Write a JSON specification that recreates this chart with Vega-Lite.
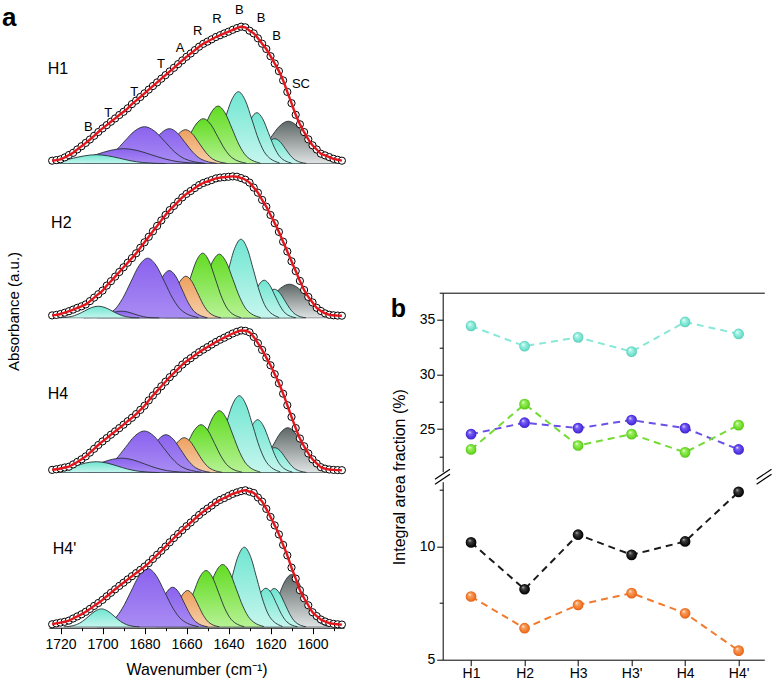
{
"$schema":"https://vega.github.io/schema/vega-lite/v6.json",
"padding":{"top":3.7,"left":1,"right":0,"bottom":0},
"config":{"font":"Liberation Sans","view":{"stroke":null},"axis":{"grid":false,"domainColor":"#000","tickColor":"#000","labelColor":"#000","titleColor":"#000","titleFontWeight":"normal","domainWidth":1,"tickWidth":1}},
"datasets":{
"A":[
{"k":"e","s":"H1","x":1724,"y":0.030},{"k":"e","s":"H1","x":1722,"y":0.036},{"k":"e","s":"H1","x":1720,"y":0.044},{"k":"e","s":"H1","x":1718,"y":0.063},{"k":"e","s":"H1","x":1716,"y":0.087},{"k":"e","s":"H1","x":1714,"y":0.109},{"k":"e","s":"H1","x":1712,"y":0.143},{"k":"e","s":"H1","x":1710,"y":0.175},{"k":"e","s":"H1","x":1708,"y":0.208},{"k":"e","s":"H1","x":1706,"y":0.242},{"k":"e","s":"H1","x":1704,"y":0.279},{"k":"e","s":"H1","x":1702,"y":0.317},{"k":"e","s":"H1","x":1700,"y":0.353},{"k":"e","s":"H1","x":1698,"y":0.386},{"k":"e","s":"H1","x":1696,"y":0.420},{"k":"e","s":"H1","x":1694,"y":0.453},{"k":"e","s":"H1","x":1692,"y":0.487},{"k":"e","s":"H1","x":1690,"y":0.519},{"k":"e","s":"H1","x":1688,"y":0.554},{"k":"e","s":"H1","x":1686,"y":0.596},{"k":"e","s":"H1","x":1684,"y":0.631},{"k":"e","s":"H1","x":1682,"y":0.667},{"k":"e","s":"H1","x":1680,"y":0.704},{"k":"e","s":"H1","x":1678,"y":0.741},{"k":"e","s":"H1","x":1676,"y":0.777},{"k":"e","s":"H1","x":1674,"y":0.813},{"k":"e","s":"H1","x":1672,"y":0.850},{"k":"e","s":"H1","x":1670,"y":0.886},{"k":"e","s":"H1","x":1668,"y":0.923},{"k":"e","s":"H1","x":1666,"y":0.959},{"k":"e","s":"H1","x":1664,"y":0.996},{"k":"e","s":"H1","x":1662,"y":1.033},{"k":"e","s":"H1","x":1660,"y":1.069},{"k":"e","s":"H1","x":1658,"y":1.102},{"k":"e","s":"H1","x":1656,"y":1.136},{"k":"e","s":"H1","x":1654,"y":1.170},{"k":"e","s":"H1","x":1652,"y":1.199},{"k":"e","s":"H1","x":1650,"y":1.221},{"k":"e","s":"H1","x":1648,"y":1.244},{"k":"e","s":"H1","x":1646,"y":1.267},{"k":"e","s":"H1","x":1644,"y":1.285},{"k":"e","s":"H1","x":1642,"y":1.303},{"k":"e","s":"H1","x":1640,"y":1.320},{"k":"e","s":"H1","x":1638,"y":1.339},{"k":"e","s":"H1","x":1636,"y":1.356},{"k":"e","s":"H1","x":1634,"y":1.370},{"k":"e","s":"H1","x":1632,"y":1.364},{"k":"e","s":"H1","x":1630,"y":1.330},{"k":"e","s":"H1","x":1628,"y":1.303},{"k":"e","s":"H1","x":1626,"y":1.254},{"k":"e","s":"H1","x":1624,"y":1.200},{"k":"e","s":"H1","x":1622,"y":1.147},{"k":"e","s":"H1","x":1620,"y":1.075},{"k":"e","s":"H1","x":1618,"y":1.002},{"k":"e","s":"H1","x":1616,"y":0.926},{"k":"e","s":"H1","x":1614,"y":0.833},{"k":"e","s":"H1","x":1612,"y":0.718},{"k":"e","s":"H1","x":1610,"y":0.605},{"k":"e","s":"H1","x":1608,"y":0.489},{"k":"e","s":"H1","x":1606,"y":0.394},{"k":"e","s":"H1","x":1604,"y":0.316},{"k":"e","s":"H1","x":1602,"y":0.244},{"k":"e","s":"H1","x":1600,"y":0.184},{"k":"e","s":"H1","x":1598,"y":0.142},{"k":"e","s":"H1","x":1596,"y":0.100},{"k":"e","s":"H1","x":1594,"y":0.083},{"k":"e","s":"H1","x":1592,"y":0.066},{"k":"e","s":"H1","x":1590,"y":0.049},{"k":"e","s":"H1","x":1588,"y":0.039},{"k":"e","s":"H1","x":1586,"y":0.030},
{"k":"e","s":"H2","x":1724,"y":0.028},{"k":"e","s":"H2","x":1722,"y":0.033},{"k":"e","s":"H2","x":1720,"y":0.042},{"k":"e","s":"H2","x":1718,"y":0.055},{"k":"e","s":"H2","x":1716,"y":0.070},{"k":"e","s":"H2","x":1714,"y":0.086},{"k":"e","s":"H2","x":1712,"y":0.104},{"k":"e","s":"H2","x":1710,"y":0.119},{"k":"e","s":"H2","x":1708,"y":0.138},{"k":"e","s":"H2","x":1706,"y":0.171},{"k":"e","s":"H2","x":1704,"y":0.206},{"k":"e","s":"H2","x":1702,"y":0.240},{"k":"e","s":"H2","x":1700,"y":0.276},{"k":"e","s":"H2","x":1698,"y":0.326},{"k":"e","s":"H2","x":1696,"y":0.370},{"k":"e","s":"H2","x":1694,"y":0.416},{"k":"e","s":"H2","x":1692,"y":0.462},{"k":"e","s":"H2","x":1690,"y":0.509},{"k":"e","s":"H2","x":1688,"y":0.555},{"k":"e","s":"H2","x":1686,"y":0.601},{"k":"e","s":"H2","x":1684,"y":0.649},{"k":"e","s":"H2","x":1682,"y":0.704},{"k":"e","s":"H2","x":1680,"y":0.759},{"k":"e","s":"H2","x":1678,"y":0.814},{"k":"e","s":"H2","x":1676,"y":0.869},{"k":"e","s":"H2","x":1674,"y":0.923},{"k":"e","s":"H2","x":1672,"y":0.978},{"k":"e","s":"H2","x":1670,"y":1.033},{"k":"e","s":"H2","x":1668,"y":1.081},{"k":"e","s":"H2","x":1666,"y":1.123},{"k":"e","s":"H2","x":1664,"y":1.166},{"k":"e","s":"H2","x":1662,"y":1.208},{"k":"e","s":"H2","x":1660,"y":1.243},{"k":"e","s":"H2","x":1658,"y":1.272},{"k":"e","s":"H2","x":1656,"y":1.302},{"k":"e","s":"H2","x":1654,"y":1.331},{"k":"e","s":"H2","x":1652,"y":1.352},{"k":"e","s":"H2","x":1650,"y":1.367},{"k":"e","s":"H2","x":1648,"y":1.382},{"k":"e","s":"H2","x":1646,"y":1.398},{"k":"e","s":"H2","x":1644,"y":1.406},{"k":"e","s":"H2","x":1642,"y":1.410},{"k":"e","s":"H2","x":1640,"y":1.414},{"k":"e","s":"H2","x":1638,"y":1.418},{"k":"e","s":"H2","x":1636,"y":1.415},{"k":"e","s":"H2","x":1634,"y":1.401},{"k":"e","s":"H2","x":1632,"y":1.385},{"k":"e","s":"H2","x":1630,"y":1.356},{"k":"e","s":"H2","x":1628,"y":1.306},{"k":"e","s":"H2","x":1626,"y":1.255},{"k":"e","s":"H2","x":1624,"y":1.183},{"k":"e","s":"H2","x":1622,"y":1.115},{"k":"e","s":"H2","x":1620,"y":1.032},{"k":"e","s":"H2","x":1618,"y":0.950},{"k":"e","s":"H2","x":1616,"y":0.863},{"k":"e","s":"H2","x":1614,"y":0.765},{"k":"e","s":"H2","x":1612,"y":0.667},{"k":"e","s":"H2","x":1610,"y":0.569},{"k":"e","s":"H2","x":1608,"y":0.471},{"k":"e","s":"H2","x":1606,"y":0.373},{"k":"e","s":"H2","x":1604,"y":0.282},{"k":"e","s":"H2","x":1602,"y":0.213},{"k":"e","s":"H2","x":1600,"y":0.158},{"k":"e","s":"H2","x":1598,"y":0.104},{"k":"e","s":"H2","x":1596,"y":0.072},{"k":"e","s":"H2","x":1594,"y":0.048},{"k":"e","s":"H2","x":1592,"y":0.034},{"k":"e","s":"H2","x":1590,"y":0.029},{"k":"e","s":"H2","x":1588,"y":0.026},{"k":"e","s":"H2","x":1586,"y":0.025},
{"k":"e","s":"H4","x":1724,"y":0.028},{"k":"e","s":"H4","x":1722,"y":0.034},{"k":"e","s":"H4","x":1720,"y":0.042},{"k":"e","s":"H4","x":1718,"y":0.052},{"k":"e","s":"H4","x":1716,"y":0.060},{"k":"e","s":"H4","x":1714,"y":0.083},{"k":"e","s":"H4","x":1712,"y":0.108},{"k":"e","s":"H4","x":1710,"y":0.134},{"k":"e","s":"H4","x":1708,"y":0.163},{"k":"e","s":"H4","x":1706,"y":0.201},{"k":"e","s":"H4","x":1704,"y":0.239},{"k":"e","s":"H4","x":1702,"y":0.277},{"k":"e","s":"H4","x":1700,"y":0.313},{"k":"e","s":"H4","x":1698,"y":0.346},{"k":"e","s":"H4","x":1696,"y":0.380},{"k":"e","s":"H4","x":1694,"y":0.413},{"k":"e","s":"H4","x":1692,"y":0.446},{"k":"e","s":"H4","x":1690,"y":0.480},{"k":"e","s":"H4","x":1688,"y":0.515},{"k":"e","s":"H4","x":1686,"y":0.549},{"k":"e","s":"H4","x":1684,"y":0.586},{"k":"e","s":"H4","x":1682,"y":0.628},{"k":"e","s":"H4","x":1680,"y":0.670},{"k":"e","s":"H4","x":1678,"y":0.723},{"k":"e","s":"H4","x":1676,"y":0.772},{"k":"e","s":"H4","x":1674,"y":0.818},{"k":"e","s":"H4","x":1672,"y":0.864},{"k":"e","s":"H4","x":1670,"y":0.910},{"k":"e","s":"H4","x":1668,"y":0.955},{"k":"e","s":"H4","x":1666,"y":0.997},{"k":"e","s":"H4","x":1664,"y":1.039},{"k":"e","s":"H4","x":1662,"y":1.081},{"k":"e","s":"H4","x":1660,"y":1.115},{"k":"e","s":"H4","x":1658,"y":1.145},{"k":"e","s":"H4","x":1656,"y":1.175},{"k":"e","s":"H4","x":1654,"y":1.205},{"k":"e","s":"H4","x":1652,"y":1.231},{"k":"e","s":"H4","x":1650,"y":1.256},{"k":"e","s":"H4","x":1648,"y":1.282},{"k":"e","s":"H4","x":1646,"y":1.307},{"k":"e","s":"H4","x":1644,"y":1.330},{"k":"e","s":"H4","x":1642,"y":1.350},{"k":"e","s":"H4","x":1640,"y":1.371},{"k":"e","s":"H4","x":1638,"y":1.392},{"k":"e","s":"H4","x":1636,"y":1.409},{"k":"e","s":"H4","x":1634,"y":1.422},{"k":"e","s":"H4","x":1632,"y":1.419},{"k":"e","s":"H4","x":1630,"y":1.404},{"k":"e","s":"H4","x":1628,"y":1.358},{"k":"e","s":"H4","x":1626,"y":1.295},{"k":"e","s":"H4","x":1624,"y":1.228},{"k":"e","s":"H4","x":1622,"y":1.151},{"k":"e","s":"H4","x":1620,"y":1.074},{"k":"e","s":"H4","x":1618,"y":0.985},{"k":"e","s":"H4","x":1616,"y":0.894},{"k":"e","s":"H4","x":1614,"y":0.790},{"k":"e","s":"H4","x":1612,"y":0.675},{"k":"e","s":"H4","x":1610,"y":0.558},{"k":"e","s":"H4","x":1608,"y":0.446},{"k":"e","s":"H4","x":1606,"y":0.342},{"k":"e","s":"H4","x":1604,"y":0.264},{"k":"e","s":"H4","x":1602,"y":0.193},{"k":"e","s":"H4","x":1600,"y":0.134},{"k":"e","s":"H4","x":1598,"y":0.092},{"k":"e","s":"H4","x":1596,"y":0.055},{"k":"e","s":"H4","x":1594,"y":0.040},{"k":"e","s":"H4","x":1592,"y":0.032},{"k":"e","s":"H4","x":1590,"y":0.028},{"k":"e","s":"H4","x":1588,"y":0.026},{"k":"e","s":"H4","x":1586,"y":0.025},
{"k":"e","s":"H4'","x":1724,"y":0.029},{"k":"e","s":"H4'","x":1722,"y":0.038},{"k":"e","s":"H4'","x":1720,"y":0.046},{"k":"e","s":"H4'","x":1718,"y":0.054},{"k":"e","s":"H4'","x":1716,"y":0.066},{"k":"e","s":"H4'","x":1714,"y":0.087},{"k":"e","s":"H4'","x":1712,"y":0.108},{"k":"e","s":"H4'","x":1710,"y":0.129},{"k":"e","s":"H4'","x":1708,"y":0.154},{"k":"e","s":"H4'","x":1706,"y":0.183},{"k":"e","s":"H4'","x":1704,"y":0.213},{"k":"e","s":"H4'","x":1702,"y":0.242},{"k":"e","s":"H4'","x":1700,"y":0.273},{"k":"e","s":"H4'","x":1698,"y":0.309},{"k":"e","s":"H4'","x":1696,"y":0.344},{"k":"e","s":"H4'","x":1694,"y":0.379},{"k":"e","s":"H4'","x":1692,"y":0.413},{"k":"e","s":"H4'","x":1690,"y":0.445},{"k":"e","s":"H4'","x":1688,"y":0.478},{"k":"e","s":"H4'","x":1686,"y":0.510},{"k":"e","s":"H4'","x":1684,"y":0.541},{"k":"e","s":"H4'","x":1682,"y":0.573},{"k":"e","s":"H4'","x":1680,"y":0.606},{"k":"e","s":"H4'","x":1678,"y":0.641},{"k":"e","s":"H4'","x":1676,"y":0.683},{"k":"e","s":"H4'","x":1674,"y":0.724},{"k":"e","s":"H4'","x":1672,"y":0.764},{"k":"e","s":"H4'","x":1670,"y":0.806},{"k":"e","s":"H4'","x":1668,"y":0.849},{"k":"e","s":"H4'","x":1666,"y":0.892},{"k":"e","s":"H4'","x":1664,"y":0.932},{"k":"e","s":"H4'","x":1662,"y":0.971},{"k":"e","s":"H4'","x":1660,"y":1.010},{"k":"e","s":"H4'","x":1658,"y":1.047},{"k":"e","s":"H4'","x":1656,"y":1.085},{"k":"e","s":"H4'","x":1654,"y":1.122},{"k":"e","s":"H4'","x":1652,"y":1.156},{"k":"e","s":"H4'","x":1650,"y":1.186},{"k":"e","s":"H4'","x":1648,"y":1.216},{"k":"e","s":"H4'","x":1646,"y":1.248},{"k":"e","s":"H4'","x":1644,"y":1.273},{"k":"e","s":"H4'","x":1642,"y":1.292},{"k":"e","s":"H4'","x":1640,"y":1.313},{"k":"e","s":"H4'","x":1638,"y":1.333},{"k":"e","s":"H4'","x":1636,"y":1.348},{"k":"e","s":"H4'","x":1634,"y":1.361},{"k":"e","s":"H4'","x":1632,"y":1.369},{"k":"e","s":"H4'","x":1630,"y":1.355},{"k":"e","s":"H4'","x":1628,"y":1.342},{"k":"e","s":"H4'","x":1626,"y":1.297},{"k":"e","s":"H4'","x":1624,"y":1.256},{"k":"e","s":"H4'","x":1622,"y":1.183},{"k":"e","s":"H4'","x":1620,"y":1.102},{"k":"e","s":"H4'","x":1618,"y":1.018},{"k":"e","s":"H4'","x":1616,"y":0.928},{"k":"e","s":"H4'","x":1614,"y":0.823},{"k":"e","s":"H4'","x":1612,"y":0.718},{"k":"e","s":"H4'","x":1610,"y":0.596},{"k":"e","s":"H4'","x":1608,"y":0.486},{"k":"e","s":"H4'","x":1606,"y":0.370},{"k":"e","s":"H4'","x":1604,"y":0.289},{"k":"e","s":"H4'","x":1602,"y":0.219},{"k":"e","s":"H4'","x":1600,"y":0.150},{"k":"e","s":"H4'","x":1598,"y":0.111},{"k":"e","s":"H4'","x":1596,"y":0.077},{"k":"e","s":"H4'","x":1594,"y":0.057},{"k":"e","s":"H4'","x":1592,"y":0.042},{"k":"e","s":"H4'","x":1590,"y":0.033},{"k":"e","s":"H4'","x":1588,"y":0.029},{"k":"e","s":"H4'","x":1586,"y":0.026},

{"k":"p","s":"H1","g":"gr","p":1,"x":1586,"y":0.005},{"k":"p","s":"H1","g":"gr","p":1,"x":1594.5,"y":0.057},{"k":"p","s":"H1","g":"gr","p":1,"x":1598.75,"y":0.138},{"k":"p","s":"H1","g":"gr","p":1,"x":1603,"y":0.258},{"k":"p","s":"H1","g":"gr","p":1,"x":1607.25,"y":0.375},{"k":"p","s":"H1","g":"gr","p":1,"x":1611.5,"y":0.425},{"k":"p","s":"H1","g":"gr","p":1,"x":1615.75,"y":0.375},{"k":"p","s":"H1","g":"gr","p":1,"x":1620,"y":0.258},{"k":"p","s":"H1","g":"gr","p":1,"x":1624.25,"y":0.138},{"k":"p","s":"H1","g":"gr","p":1,"x":1628.5,"y":0.057},{"k":"p","s":"H1","g":"gr","p":1,"x":1637,"y":0.005},
{"k":"p","s":"H1","g":"cr","p":1,"x":1603,"y":0.003},{"k":"p","s":"H1","g":"cr","p":1,"x":1608,"y":0.034},{"k":"p","s":"H1","g":"cr","p":1,"x":1610.5,"y":0.081},{"k":"p","s":"H1","g":"cr","p":1,"x":1613,"y":0.152},{"k":"p","s":"H1","g":"cr","p":1,"x":1615.5,"y":0.221},{"k":"p","s":"H1","g":"cr","p":1,"x":1618,"y":0.25},{"k":"p","s":"H1","g":"cr","p":1,"x":1620.5,"y":0.221},{"k":"p","s":"H1","g":"cr","p":1,"x":1623,"y":0.152},{"k":"p","s":"H1","g":"cr","p":1,"x":1625.5,"y":0.081},{"k":"p","s":"H1","g":"cr","p":1,"x":1628,"y":0.034},{"k":"p","s":"H1","g":"cr","p":1,"x":1633,"y":0.003},
{"k":"p","s":"H1","g":"cr","p":2,"x":1610,"y":0.006},{"k":"p","s":"H1","g":"cr","p":2,"x":1615.5,"y":0.069},{"k":"p","s":"H1","g":"cr","p":2,"x":1618.25,"y":0.166},{"k":"p","s":"H1","g":"cr","p":2,"x":1621,"y":0.31},{"k":"p","s":"H1","g":"cr","p":2,"x":1623.75,"y":0.45},{"k":"p","s":"H1","g":"cr","p":2,"x":1626.5,"y":0.51},{"k":"p","s":"H1","g":"cr","p":2,"x":1629.25,"y":0.45},{"k":"p","s":"H1","g":"cr","p":2,"x":1632,"y":0.31},{"k":"p","s":"H1","g":"cr","p":2,"x":1634.75,"y":0.166},{"k":"p","s":"H1","g":"cr","p":2,"x":1637.5,"y":0.069},{"k":"p","s":"H1","g":"cr","p":2,"x":1643,"y":0.006},
{"k":"p","s":"H1","g":"cr","p":3,"x":1615.8,"y":0.008},{"k":"p","s":"H1","g":"cr","p":3,"x":1622.3,"y":0.097},{"k":"p","s":"H1","g":"cr","p":3,"x":1625.55,"y":0.234},{"k":"p","s":"H1","g":"cr","p":3,"x":1628.8,"y":0.437},{"k":"p","s":"H1","g":"cr","p":3,"x":1632.05,"y":0.635},{"k":"p","s":"H1","g":"cr","p":3,"x":1635.3,"y":0.72},{"k":"p","s":"H1","g":"cr","p":3,"x":1638.55,"y":0.635},{"k":"p","s":"H1","g":"cr","p":3,"x":1641.8,"y":0.437},{"k":"p","s":"H1","g":"cr","p":3,"x":1645.05,"y":0.234},{"k":"p","s":"H1","g":"cr","p":3,"x":1648.3,"y":0.097},{"k":"p","s":"H1","g":"cr","p":3,"x":1654.8,"y":0.008},
{"k":"p","s":"H1","g":"gn","p":1,"x":1624.9,"y":0.006},{"k":"p","s":"H1","g":"gn","p":1,"x":1631.6,"y":0.078},{"k":"p","s":"H1","g":"gn","p":1,"x":1634.95,"y":0.187},{"k":"p","s":"H1","g":"gn","p":1,"x":1638.3,"y":0.35},{"k":"p","s":"H1","g":"gn","p":1,"x":1641.65,"y":0.508},{"k":"p","s":"H1","g":"gn","p":1,"x":1645,"y":0.576},{"k":"p","s":"H1","g":"gn","p":1,"x":1648.35,"y":0.508},{"k":"p","s":"H1","g":"gn","p":1,"x":1651.7,"y":0.35},{"k":"p","s":"H1","g":"gn","p":1,"x":1655.05,"y":0.187},{"k":"p","s":"H1","g":"gn","p":1,"x":1658.4,"y":0.078},{"k":"p","s":"H1","g":"gn","p":1,"x":1665.1,"y":0.006},
{"k":"p","s":"H1","g":"gn","p":2,"x":1631.6,"y":0.005},{"k":"p","s":"H1","g":"gn","p":2,"x":1638.4,"y":0.061},{"k":"p","s":"H1","g":"gn","p":2,"x":1641.8,"y":0.146},{"k":"p","s":"H1","g":"gn","p":2,"x":1645.2,"y":0.273},{"k":"p","s":"H1","g":"gn","p":2,"x":1648.6,"y":0.397},{"k":"p","s":"H1","g":"gn","p":2,"x":1652,"y":0.45},{"k":"p","s":"H1","g":"gn","p":2,"x":1655.4,"y":0.397},{"k":"p","s":"H1","g":"gn","p":2,"x":1658.8,"y":0.273},{"k":"p","s":"H1","g":"gn","p":2,"x":1662.2,"y":0.146},{"k":"p","s":"H1","g":"gn","p":2,"x":1665.6,"y":0.061},{"k":"p","s":"H1","g":"gn","p":2,"x":1672.4,"y":0.005},
{"k":"p","s":"H1","g":"or","p":1,"x":1641,"y":0.004},{"k":"p","s":"H1","g":"or","p":1,"x":1647.5,"y":0.046},{"k":"p","s":"H1","g":"or","p":1,"x":1650.75,"y":0.111},{"k":"p","s":"H1","g":"or","p":1,"x":1654,"y":0.206},{"k":"p","s":"H1","g":"or","p":1,"x":1657.25,"y":0.3},{"k":"p","s":"H1","g":"or","p":1,"x":1660.5,"y":0.34},{"k":"p","s":"H1","g":"or","p":1,"x":1663.75,"y":0.3},{"k":"p","s":"H1","g":"or","p":1,"x":1667,"y":0.206},{"k":"p","s":"H1","g":"or","p":1,"x":1670.25,"y":0.111},{"k":"p","s":"H1","g":"or","p":1,"x":1673.5,"y":0.046},{"k":"p","s":"H1","g":"or","p":1,"x":1680,"y":0.004},
{"k":"p","s":"H1","g":"pu","p":1,"x":1645.7,"y":0.004},{"k":"p","s":"H1","g":"pu","p":1,"x":1653.2,"y":0.047},{"k":"p","s":"H1","g":"pu","p":1,"x":1656.95,"y":0.114},{"k":"p","s":"H1","g":"pu","p":1,"x":1660.7,"y":0.212},{"k":"p","s":"H1","g":"pu","p":1,"x":1664.45,"y":0.309},{"k":"p","s":"H1","g":"pu","p":1,"x":1668.2,"y":0.35},{"k":"p","s":"H1","g":"pu","p":1,"x":1671.95,"y":0.309},{"k":"p","s":"H1","g":"pu","p":1,"x":1675.7,"y":0.212},{"k":"p","s":"H1","g":"pu","p":1,"x":1679.45,"y":0.114},{"k":"p","s":"H1","g":"pu","p":1,"x":1683.2,"y":0.047},{"k":"p","s":"H1","g":"pu","p":1,"x":1690.7,"y":0.004},
{"k":"p","s":"H1","g":"pu","p":2,"x":1651.5,"y":0.004},{"k":"p","s":"H1","g":"pu","p":2,"x":1661,"y":0.05},{"k":"p","s":"H1","g":"pu","p":2,"x":1665.75,"y":0.12},{"k":"p","s":"H1","g":"pu","p":2,"x":1670.5,"y":0.225},{"k":"p","s":"H1","g":"pu","p":2,"x":1675.25,"y":0.326},{"k":"p","s":"H1","g":"pu","p":2,"x":1680,"y":0.37},{"k":"p","s":"H1","g":"pu","p":2,"x":1684.75,"y":0.326},{"k":"p","s":"H1","g":"pu","p":2,"x":1689.5,"y":0.225},{"k":"p","s":"H1","g":"pu","p":2,"x":1694.25,"y":0.12},{"k":"p","s":"H1","g":"pu","p":2,"x":1699,"y":0.05},{"k":"p","s":"H1","g":"pu","p":2,"x":1708.5,"y":0.004},
{"k":"p","s":"H1","g":"pu","p":3,"x":1651,"y":0.002},{"k":"p","s":"H1","g":"pu","p":3,"x":1664,"y":0.02},{"k":"p","s":"H1","g":"pu","p":3,"x":1670.5,"y":0.049},{"k":"p","s":"H1","g":"pu","p":3,"x":1677,"y":0.091},{"k":"p","s":"H1","g":"pu","p":3,"x":1683.5,"y":0.132},{"k":"p","s":"H1","g":"pu","p":3,"x":1690,"y":0.15},{"k":"p","s":"H1","g":"pu","p":3,"x":1696.5,"y":0.132},{"k":"p","s":"H1","g":"pu","p":3,"x":1703,"y":0.091},{"k":"p","s":"H1","g":"pu","p":3,"x":1709.5,"y":0.049},{"k":"p","s":"H1","g":"pu","p":3,"x":1716,"y":0.02},{"k":"p","s":"H1","g":"pu","p":3,"x":1729,"y":0.002},
{"k":"p","s":"H1","g":"cl","p":1,"x":1670,"y":0.001},{"k":"p","s":"H1","g":"cl","p":1,"x":1681,"y":0.012},{"k":"p","s":"H1","g":"cl","p":1,"x":1686.5,"y":0.029},{"k":"p","s":"H1","g":"cl","p":1,"x":1692,"y":0.055},{"k":"p","s":"H1","g":"cl","p":1,"x":1697.5,"y":0.079},{"k":"p","s":"H1","g":"cl","p":1,"x":1703,"y":0.09},{"k":"p","s":"H1","g":"cl","p":1,"x":1708.5,"y":0.079},{"k":"p","s":"H1","g":"cl","p":1,"x":1714,"y":0.055},{"k":"p","s":"H1","g":"cl","p":1,"x":1719.5,"y":0.029},{"k":"p","s":"H1","g":"cl","p":1,"x":1725,"y":0.012},{"k":"p","s":"H1","g":"cl","p":1,"x":1736,"y":0.001},

{"k":"p","s":"H2","g":"gr","p":1,"x":1585.5,"y":0.004},{"k":"p","s":"H2","g":"gr","p":1,"x":1594,"y":0.046},{"k":"p","s":"H2","g":"gr","p":1,"x":1598.25,"y":0.111},{"k":"p","s":"H2","g":"gr","p":1,"x":1602.5,"y":0.206},{"k":"p","s":"H2","g":"gr","p":1,"x":1606.75,"y":0.3},{"k":"p","s":"H2","g":"gr","p":1,"x":1611,"y":0.34},{"k":"p","s":"H2","g":"gr","p":1,"x":1615.25,"y":0.3},{"k":"p","s":"H2","g":"gr","p":1,"x":1619.5,"y":0.206},{"k":"p","s":"H2","g":"gr","p":1,"x":1623.75,"y":0.111},{"k":"p","s":"H2","g":"gr","p":1,"x":1628,"y":0.046},{"k":"p","s":"H2","g":"gr","p":1,"x":1636.5,"y":0.004},
{"k":"p","s":"H2","g":"cr","p":1,"x":1603.2,"y":0.003},{"k":"p","s":"H2","g":"cr","p":1,"x":1608.2,"y":0.039},{"k":"p","s":"H2","g":"cr","p":1,"x":1610.7,"y":0.094},{"k":"p","s":"H2","g":"cr","p":1,"x":1613.2,"y":0.176},{"k":"p","s":"H2","g":"cr","p":1,"x":1615.7,"y":0.256},{"k":"p","s":"H2","g":"cr","p":1,"x":1618.2,"y":0.29},{"k":"p","s":"H2","g":"cr","p":1,"x":1620.7,"y":0.256},{"k":"p","s":"H2","g":"cr","p":1,"x":1623.2,"y":0.176},{"k":"p","s":"H2","g":"cr","p":1,"x":1625.7,"y":0.094},{"k":"p","s":"H2","g":"cr","p":1,"x":1628.2,"y":0.039},{"k":"p","s":"H2","g":"cr","p":1,"x":1633.2,"y":0.003},
{"k":"p","s":"H2","g":"cr","p":2,"x":1608,"y":0.004},{"k":"p","s":"H2","g":"cr","p":2,"x":1613,"y":0.051},{"k":"p","s":"H2","g":"cr","p":2,"x":1615.5,"y":0.124},{"k":"p","s":"H2","g":"cr","p":2,"x":1618,"y":0.231},{"k":"p","s":"H2","g":"cr","p":2,"x":1620.5,"y":0.335},{"k":"p","s":"H2","g":"cr","p":2,"x":1623,"y":0.38},{"k":"p","s":"H2","g":"cr","p":2,"x":1625.5,"y":0.335},{"k":"p","s":"H2","g":"cr","p":2,"x":1628,"y":0.231},{"k":"p","s":"H2","g":"cr","p":2,"x":1630.5,"y":0.124},{"k":"p","s":"H2","g":"cr","p":2,"x":1633,"y":0.051},{"k":"p","s":"H2","g":"cr","p":2,"x":1638,"y":0.004},
{"k":"p","s":"H2","g":"cr","p":3,"x":1616.1,"y":0.009},{"k":"p","s":"H2","g":"cr","p":3,"x":1622.1,"y":0.107},{"k":"p","s":"H2","g":"cr","p":3,"x":1625.1,"y":0.257},{"k":"p","s":"H2","g":"cr","p":3,"x":1628.1,"y":0.48},{"k":"p","s":"H2","g":"cr","p":3,"x":1631.1,"y":0.697},{"k":"p","s":"H2","g":"cr","p":3,"x":1634.1,"y":0.79},{"k":"p","s":"H2","g":"cr","p":3,"x":1637.1,"y":0.697},{"k":"p","s":"H2","g":"cr","p":3,"x":1640.1,"y":0.48},{"k":"p","s":"H2","g":"cr","p":3,"x":1643.1,"y":0.257},{"k":"p","s":"H2","g":"cr","p":3,"x":1646.1,"y":0.107},{"k":"p","s":"H2","g":"cr","p":3,"x":1652.1,"y":0.009},
{"k":"p","s":"H2","g":"gn","p":1,"x":1624.9,"y":0.007},{"k":"p","s":"H2","g":"gn","p":1,"x":1631.4,"y":0.086},{"k":"p","s":"H2","g":"gn","p":1,"x":1634.65,"y":0.208},{"k":"p","s":"H2","g":"gn","p":1,"x":1637.9,"y":0.388},{"k":"p","s":"H2","g":"gn","p":1,"x":1641.15,"y":0.564},{"k":"p","s":"H2","g":"gn","p":1,"x":1644.4,"y":0.64},{"k":"p","s":"H2","g":"gn","p":1,"x":1647.65,"y":0.564},{"k":"p","s":"H2","g":"gn","p":1,"x":1650.9,"y":0.388},{"k":"p","s":"H2","g":"gn","p":1,"x":1654.15,"y":0.208},{"k":"p","s":"H2","g":"gn","p":1,"x":1657.4,"y":0.086},{"k":"p","s":"H2","g":"gn","p":1,"x":1663.9,"y":0.007},
{"k":"p","s":"H2","g":"gn","p":2,"x":1634.3,"y":0.007},{"k":"p","s":"H2","g":"gn","p":2,"x":1640.3,"y":0.088},{"k":"p","s":"H2","g":"gn","p":2,"x":1643.3,"y":0.211},{"k":"p","s":"H2","g":"gn","p":2,"x":1646.3,"y":0.395},{"k":"p","s":"H2","g":"gn","p":2,"x":1649.3,"y":0.573},{"k":"p","s":"H2","g":"gn","p":2,"x":1652.3,"y":0.65},{"k":"p","s":"H2","g":"gn","p":2,"x":1655.3,"y":0.573},{"k":"p","s":"H2","g":"gn","p":2,"x":1658.3,"y":0.395},{"k":"p","s":"H2","g":"gn","p":2,"x":1661.3,"y":0.211},{"k":"p","s":"H2","g":"gn","p":2,"x":1664.3,"y":0.088},{"k":"p","s":"H2","g":"gn","p":2,"x":1670.3,"y":0.007},
{"k":"p","s":"H2","g":"or","p":1,"x":1643.8,"y":0.005},{"k":"p","s":"H2","g":"or","p":1,"x":1649.3,"y":0.057},{"k":"p","s":"H2","g":"or","p":1,"x":1652.05,"y":0.137},{"k":"p","s":"H2","g":"or","p":1,"x":1654.8,"y":0.255},{"k":"p","s":"H2","g":"or","p":1,"x":1657.55,"y":0.37},{"k":"p","s":"H2","g":"or","p":1,"x":1660.3,"y":0.42},{"k":"p","s":"H2","g":"or","p":1,"x":1663.05,"y":0.37},{"k":"p","s":"H2","g":"or","p":1,"x":1665.8,"y":0.255},{"k":"p","s":"H2","g":"or","p":1,"x":1668.55,"y":0.137},{"k":"p","s":"H2","g":"or","p":1,"x":1671.3,"y":0.057},{"k":"p","s":"H2","g":"or","p":1,"x":1676.8,"y":0.005},
{"k":"p","s":"H2","g":"pu","p":1,"x":1650.2,"y":0.005},{"k":"p","s":"H2","g":"pu","p":1,"x":1656.2,"y":0.064},{"k":"p","s":"H2","g":"pu","p":1,"x":1659.2,"y":0.155},{"k":"p","s":"H2","g":"pu","p":1,"x":1662.2,"y":0.29},{"k":"p","s":"H2","g":"pu","p":1,"x":1665.2,"y":0.421},{"k":"p","s":"H2","g":"pu","p":1,"x":1668.2,"y":0.477},{"k":"p","s":"H2","g":"pu","p":1,"x":1671.2,"y":0.421},{"k":"p","s":"H2","g":"pu","p":1,"x":1674.2,"y":0.29},{"k":"p","s":"H2","g":"pu","p":1,"x":1677.2,"y":0.155},{"k":"p","s":"H2","g":"pu","p":1,"x":1680.2,"y":0.064},{"k":"p","s":"H2","g":"pu","p":1,"x":1686.2,"y":0.005},
{"k":"p","s":"H2","g":"pu","p":2,"x":1654.5,"y":0.007},{"k":"p","s":"H2","g":"pu","p":2,"x":1662.5,"y":0.081},{"k":"p","s":"H2","g":"pu","p":2,"x":1666.5,"y":0.195},{"k":"p","s":"H2","g":"pu","p":2,"x":1670.5,"y":0.364},{"k":"p","s":"H2","g":"pu","p":2,"x":1674.5,"y":0.529},{"k":"p","s":"H2","g":"pu","p":2,"x":1678.5,"y":0.6},{"k":"p","s":"H2","g":"pu","p":2,"x":1682.5,"y":0.529},{"k":"p","s":"H2","g":"pu","p":2,"x":1686.5,"y":0.364},{"k":"p","s":"H2","g":"pu","p":2,"x":1690.5,"y":0.195},{"k":"p","s":"H2","g":"pu","p":2,"x":1694.5,"y":0.081},{"k":"p","s":"H2","g":"pu","p":2,"x":1702.5,"y":0.007},
{"k":"p","s":"H2","g":"pu","p":3,"x":1673,"y":0.001},{"k":"p","s":"H2","g":"pu","p":3,"x":1679,"y":0.009},{"k":"p","s":"H2","g":"pu","p":3,"x":1682,"y":0.023},{"k":"p","s":"H2","g":"pu","p":3,"x":1685,"y":0.042},{"k":"p","s":"H2","g":"pu","p":3,"x":1688,"y":0.062},{"k":"p","s":"H2","g":"pu","p":3,"x":1691,"y":0.07},{"k":"p","s":"H2","g":"pu","p":3,"x":1694,"y":0.062},{"k":"p","s":"H2","g":"pu","p":3,"x":1697,"y":0.042},{"k":"p","s":"H2","g":"pu","p":3,"x":1700,"y":0.023},{"k":"p","s":"H2","g":"pu","p":3,"x":1703,"y":0.009},{"k":"p","s":"H2","g":"pu","p":3,"x":1709,"y":0.001},
{"k":"p","s":"H2","g":"cl","p":1,"x":1682.5,"y":0.001},{"k":"p","s":"H2","g":"cl","p":1,"x":1689,"y":0.016},{"k":"p","s":"H2","g":"cl","p":1,"x":1692.25,"y":0.039},{"k":"p","s":"H2","g":"cl","p":1,"x":1695.5,"y":0.073},{"k":"p","s":"H2","g":"cl","p":1,"x":1698.75,"y":0.106},{"k":"p","s":"H2","g":"cl","p":1,"x":1702,"y":0.12},{"k":"p","s":"H2","g":"cl","p":1,"x":1705.25,"y":0.106},{"k":"p","s":"H2","g":"cl","p":1,"x":1708.5,"y":0.073},{"k":"p","s":"H2","g":"cl","p":1,"x":1711.75,"y":0.039},{"k":"p","s":"H2","g":"cl","p":1,"x":1715,"y":0.016},{"k":"p","s":"H2","g":"cl","p":1,"x":1721.5,"y":0.001},

{"k":"p","s":"H4","g":"gr","p":1,"x":1590.8,"y":0.005},{"k":"p","s":"H4","g":"gr","p":1,"x":1597.8,"y":0.061},{"k":"p","s":"H4","g":"gr","p":1,"x":1601.3,"y":0.146},{"k":"p","s":"H4","g":"gr","p":1,"x":1604.8,"y":0.273},{"k":"p","s":"H4","g":"gr","p":1,"x":1608.3,"y":0.397},{"k":"p","s":"H4","g":"gr","p":1,"x":1611.8,"y":0.45},{"k":"p","s":"H4","g":"gr","p":1,"x":1615.3,"y":0.397},{"k":"p","s":"H4","g":"gr","p":1,"x":1618.8,"y":0.273},{"k":"p","s":"H4","g":"gr","p":1,"x":1622.3,"y":0.146},{"k":"p","s":"H4","g":"gr","p":1,"x":1625.8,"y":0.061},{"k":"p","s":"H4","g":"gr","p":1,"x":1632.8,"y":0.005},
{"k":"p","s":"H4","g":"cr","p":1,"x":1603,"y":0.003},{"k":"p","s":"H4","g":"cr","p":1,"x":1608,"y":0.034},{"k":"p","s":"H4","g":"cr","p":1,"x":1610.5,"y":0.081},{"k":"p","s":"H4","g":"cr","p":1,"x":1613,"y":0.152},{"k":"p","s":"H4","g":"cr","p":1,"x":1615.5,"y":0.221},{"k":"p","s":"H4","g":"cr","p":1,"x":1618,"y":0.25},{"k":"p","s":"H4","g":"cr","p":1,"x":1620.5,"y":0.221},{"k":"p","s":"H4","g":"cr","p":1,"x":1623,"y":0.152},{"k":"p","s":"H4","g":"cr","p":1,"x":1625.5,"y":0.081},{"k":"p","s":"H4","g":"cr","p":1,"x":1628,"y":0.034},{"k":"p","s":"H4","g":"cr","p":1,"x":1633,"y":0.003},
{"k":"p","s":"H4","g":"cr","p":2,"x":1609.6,"y":0.006},{"k":"p","s":"H4","g":"cr","p":2,"x":1615.1,"y":0.072},{"k":"p","s":"H4","g":"cr","p":2,"x":1617.85,"y":0.172},{"k":"p","s":"H4","g":"cr","p":2,"x":1620.6,"y":0.322},{"k":"p","s":"H4","g":"cr","p":2,"x":1623.35,"y":0.467},{"k":"p","s":"H4","g":"cr","p":2,"x":1626.1,"y":0.53},{"k":"p","s":"H4","g":"cr","p":2,"x":1628.85,"y":0.467},{"k":"p","s":"H4","g":"cr","p":2,"x":1631.6,"y":0.322},{"k":"p","s":"H4","g":"cr","p":2,"x":1634.35,"y":0.172},{"k":"p","s":"H4","g":"cr","p":2,"x":1637.1,"y":0.072},{"k":"p","s":"H4","g":"cr","p":2,"x":1642.6,"y":0.006},
{"k":"p","s":"H4","g":"cr","p":3,"x":1615.4,"y":0.008},{"k":"p","s":"H4","g":"cr","p":3,"x":1621.9,"y":0.104},{"k":"p","s":"H4","g":"cr","p":3,"x":1625.15,"y":0.25},{"k":"p","s":"H4","g":"cr","p":3,"x":1628.4,"y":0.467},{"k":"p","s":"H4","g":"cr","p":3,"x":1631.65,"y":0.679},{"k":"p","s":"H4","g":"cr","p":3,"x":1634.9,"y":0.77},{"k":"p","s":"H4","g":"cr","p":3,"x":1638.15,"y":0.679},{"k":"p","s":"H4","g":"cr","p":3,"x":1641.4,"y":0.467},{"k":"p","s":"H4","g":"cr","p":3,"x":1644.65,"y":0.25},{"k":"p","s":"H4","g":"cr","p":3,"x":1647.9,"y":0.104},{"k":"p","s":"H4","g":"cr","p":3,"x":1654.4,"y":0.008},
{"k":"p","s":"H4","g":"gn","p":1,"x":1624.9,"y":0.007},{"k":"p","s":"H4","g":"gn","p":1,"x":1631.4,"y":0.084},{"k":"p","s":"H4","g":"gn","p":1,"x":1634.65,"y":0.202},{"k":"p","s":"H4","g":"gn","p":1,"x":1637.9,"y":0.376},{"k":"p","s":"H4","g":"gn","p":1,"x":1641.15,"y":0.547},{"k":"p","s":"H4","g":"gn","p":1,"x":1644.4,"y":0.62},{"k":"p","s":"H4","g":"gn","p":1,"x":1647.65,"y":0.547},{"k":"p","s":"H4","g":"gn","p":1,"x":1650.9,"y":0.376},{"k":"p","s":"H4","g":"gn","p":1,"x":1654.15,"y":0.202},{"k":"p","s":"H4","g":"gn","p":1,"x":1657.4,"y":0.084},{"k":"p","s":"H4","g":"gn","p":1,"x":1663.9,"y":0.007},
{"k":"p","s":"H4","g":"gn","p":2,"x":1633.6,"y":0.005},{"k":"p","s":"H4","g":"gn","p":2,"x":1640.1,"y":0.065},{"k":"p","s":"H4","g":"gn","p":2,"x":1643.35,"y":0.156},{"k":"p","s":"H4","g":"gn","p":2,"x":1646.6,"y":0.291},{"k":"p","s":"H4","g":"gn","p":2,"x":1649.85,"y":0.423},{"k":"p","s":"H4","g":"gn","p":2,"x":1653.1,"y":0.48},{"k":"p","s":"H4","g":"gn","p":2,"x":1656.35,"y":0.423},{"k":"p","s":"H4","g":"gn","p":2,"x":1659.6,"y":0.291},{"k":"p","s":"H4","g":"gn","p":2,"x":1662.85,"y":0.156},{"k":"p","s":"H4","g":"gn","p":2,"x":1666.1,"y":0.065},{"k":"p","s":"H4","g":"gn","p":2,"x":1672.6,"y":0.005},
{"k":"p","s":"H4","g":"or","p":1,"x":1643.1,"y":0.004},{"k":"p","s":"H4","g":"or","p":1,"x":1649.1,"y":0.047},{"k":"p","s":"H4","g":"or","p":1,"x":1652.1,"y":0.114},{"k":"p","s":"H4","g":"or","p":1,"x":1655.1,"y":0.212},{"k":"p","s":"H4","g":"or","p":1,"x":1658.1,"y":0.309},{"k":"p","s":"H4","g":"or","p":1,"x":1661.1,"y":0.35},{"k":"p","s":"H4","g":"or","p":1,"x":1664.1,"y":0.309},{"k":"p","s":"H4","g":"or","p":1,"x":1667.1,"y":0.212},{"k":"p","s":"H4","g":"or","p":1,"x":1670.1,"y":0.114},{"k":"p","s":"H4","g":"or","p":1,"x":1673.1,"y":0.047},{"k":"p","s":"H4","g":"or","p":1,"x":1679.1,"y":0.004},
{"k":"p","s":"H4","g":"pu","p":1,"x":1648.8,"y":0.004},{"k":"p","s":"H4","g":"pu","p":1,"x":1655.8,"y":0.051},{"k":"p","s":"H4","g":"pu","p":1,"x":1659.3,"y":0.124},{"k":"p","s":"H4","g":"pu","p":1,"x":1662.8,"y":0.231},{"k":"p","s":"H4","g":"pu","p":1,"x":1666.3,"y":0.335},{"k":"p","s":"H4","g":"pu","p":1,"x":1669.8,"y":0.38},{"k":"p","s":"H4","g":"pu","p":1,"x":1673.3,"y":0.335},{"k":"p","s":"H4","g":"pu","p":1,"x":1676.8,"y":0.231},{"k":"p","s":"H4","g":"pu","p":1,"x":1680.3,"y":0.124},{"k":"p","s":"H4","g":"pu","p":1,"x":1683.8,"y":0.051},{"k":"p","s":"H4","g":"pu","p":1,"x":1690.8,"y":0.004},
{"k":"p","s":"H4","g":"pu","p":2,"x":1653.1,"y":0.005},{"k":"p","s":"H4","g":"pu","p":2,"x":1662.1,"y":0.056},{"k":"p","s":"H4","g":"pu","p":2,"x":1666.6,"y":0.136},{"k":"p","s":"H4","g":"pu","p":2,"x":1671.1,"y":0.253},{"k":"p","s":"H4","g":"pu","p":2,"x":1675.6,"y":0.368},{"k":"p","s":"H4","g":"pu","p":2,"x":1680.1,"y":0.417},{"k":"p","s":"H4","g":"pu","p":2,"x":1684.6,"y":0.368},{"k":"p","s":"H4","g":"pu","p":2,"x":1689.1,"y":0.253},{"k":"p","s":"H4","g":"pu","p":2,"x":1693.6,"y":0.136},{"k":"p","s":"H4","g":"pu","p":2,"x":1698.1,"y":0.056},{"k":"p","s":"H4","g":"pu","p":2,"x":1707.1,"y":0.005},
{"k":"p","s":"H4","g":"pu","p":3,"x":1658,"y":0.002},{"k":"p","s":"H4","g":"pu","p":3,"x":1669,"y":0.02},{"k":"p","s":"H4","g":"pu","p":3,"x":1674.5,"y":0.047},{"k":"p","s":"H4","g":"pu","p":3,"x":1680,"y":0.088},{"k":"p","s":"H4","g":"pu","p":3,"x":1685.5,"y":0.128},{"k":"p","s":"H4","g":"pu","p":3,"x":1691,"y":0.145},{"k":"p","s":"H4","g":"pu","p":3,"x":1696.5,"y":0.128},{"k":"p","s":"H4","g":"pu","p":3,"x":1702,"y":0.088},{"k":"p","s":"H4","g":"pu","p":3,"x":1707.5,"y":0.047},{"k":"p","s":"H4","g":"pu","p":3,"x":1713,"y":0.02},{"k":"p","s":"H4","g":"pu","p":3,"x":1724,"y":0.002},
{"k":"p","s":"H4","g":"cl","p":1,"x":1673,"y":0.001},{"k":"p","s":"H4","g":"cl","p":1,"x":1683,"y":0.015},{"k":"p","s":"H4","g":"cl","p":1,"x":1688,"y":0.036},{"k":"p","s":"H4","g":"cl","p":1,"x":1693,"y":0.067},{"k":"p","s":"H4","g":"cl","p":1,"x":1698,"y":0.097},{"k":"p","s":"H4","g":"cl","p":1,"x":1703,"y":0.11},{"k":"p","s":"H4","g":"cl","p":1,"x":1708,"y":0.097},{"k":"p","s":"H4","g":"cl","p":1,"x":1713,"y":0.067},{"k":"p","s":"H4","g":"cl","p":1,"x":1718,"y":0.036},{"k":"p","s":"H4","g":"cl","p":1,"x":1723,"y":0.015},{"k":"p","s":"H4","g":"cl","p":1,"x":1733,"y":0.001},

{"k":"p","s":"H4'","g":"gr","p":1,"x":1592,"y":0.006},{"k":"p","s":"H4'","g":"gr","p":1,"x":1598,"y":0.071},{"k":"p","s":"H4'","g":"gr","p":1,"x":1601,"y":0.171},{"k":"p","s":"H4'","g":"gr","p":1,"x":1604,"y":0.32},{"k":"p","s":"H4'","g":"gr","p":1,"x":1607,"y":0.465},{"k":"p","s":"H4'","g":"gr","p":1,"x":1610,"y":0.527},{"k":"p","s":"H4'","g":"gr","p":1,"x":1613,"y":0.465},{"k":"p","s":"H4'","g":"gr","p":1,"x":1616,"y":0.32},{"k":"p","s":"H4'","g":"gr","p":1,"x":1619,"y":0.171},{"k":"p","s":"H4'","g":"gr","p":1,"x":1622,"y":0.071},{"k":"p","s":"H4'","g":"gr","p":1,"x":1628,"y":0.006},
{"k":"p","s":"H4'","g":"cr","p":1,"x":1603.2,"y":0.004},{"k":"p","s":"H4'","g":"cr","p":1,"x":1608.2,"y":0.052},{"k":"p","s":"H4'","g":"cr","p":1,"x":1610.7,"y":0.126},{"k":"p","s":"H4'","g":"cr","p":1,"x":1613.2,"y":0.235},{"k":"p","s":"H4'","g":"cr","p":1,"x":1615.7,"y":0.341},{"k":"p","s":"H4'","g":"cr","p":1,"x":1618.2,"y":0.387},{"k":"p","s":"H4'","g":"cr","p":1,"x":1620.7,"y":0.341},{"k":"p","s":"H4'","g":"cr","p":1,"x":1623.2,"y":0.235},{"k":"p","s":"H4'","g":"cr","p":1,"x":1625.7,"y":0.126},{"k":"p","s":"H4'","g":"cr","p":1,"x":1628.2,"y":0.052},{"k":"p","s":"H4'","g":"cr","p":1,"x":1633.2,"y":0.004},
{"k":"p","s":"H4'","g":"cr","p":2,"x":1607.2,"y":0.004},{"k":"p","s":"H4'","g":"cr","p":2,"x":1612.2,"y":0.053},{"k":"p","s":"H4'","g":"cr","p":2,"x":1614.7,"y":0.127},{"k":"p","s":"H4'","g":"cr","p":2,"x":1617.2,"y":0.237},{"k":"p","s":"H4'","g":"cr","p":2,"x":1619.7,"y":0.344},{"k":"p","s":"H4'","g":"cr","p":2,"x":1622.2,"y":0.39},{"k":"p","s":"H4'","g":"cr","p":2,"x":1624.7,"y":0.344},{"k":"p","s":"H4'","g":"cr","p":2,"x":1627.2,"y":0.237},{"k":"p","s":"H4'","g":"cr","p":2,"x":1629.7,"y":0.127},{"k":"p","s":"H4'","g":"cr","p":2,"x":1632.2,"y":0.053},{"k":"p","s":"H4'","g":"cr","p":2,"x":1637.2,"y":0.004},
{"k":"p","s":"H4'","g":"cr","p":3,"x":1614.5,"y":0.009},{"k":"p","s":"H4'","g":"cr","p":3,"x":1620.5,"y":0.108},{"k":"p","s":"H4'","g":"cr","p":3,"x":1623.5,"y":0.26},{"k":"p","s":"H4'","g":"cr","p":3,"x":1626.5,"y":0.486},{"k":"p","s":"H4'","g":"cr","p":3,"x":1629.5,"y":0.706},{"k":"p","s":"H4'","g":"cr","p":3,"x":1632.5,"y":0.8},{"k":"p","s":"H4'","g":"cr","p":3,"x":1635.5,"y":0.706},{"k":"p","s":"H4'","g":"cr","p":3,"x":1638.5,"y":0.486},{"k":"p","s":"H4'","g":"cr","p":3,"x":1641.5,"y":0.26},{"k":"p","s":"H4'","g":"cr","p":3,"x":1644.5,"y":0.108},{"k":"p","s":"H4'","g":"cr","p":3,"x":1650.5,"y":0.009},
{"k":"p","s":"H4'","g":"gn","p":1,"x":1623.3,"y":0.007},{"k":"p","s":"H4'","g":"gn","p":1,"x":1629.8,"y":0.085},{"k":"p","s":"H4'","g":"gn","p":1,"x":1633.05,"y":0.204},{"k":"p","s":"H4'","g":"gn","p":1,"x":1636.3,"y":0.381},{"k":"p","s":"H4'","g":"gn","p":1,"x":1639.55,"y":0.553},{"k":"p","s":"H4'","g":"gn","p":1,"x":1642.8,"y":0.627},{"k":"p","s":"H4'","g":"gn","p":1,"x":1646.05,"y":0.553},{"k":"p","s":"H4'","g":"gn","p":1,"x":1649.3,"y":0.381},{"k":"p","s":"H4'","g":"gn","p":1,"x":1652.55,"y":0.204},{"k":"p","s":"H4'","g":"gn","p":1,"x":1655.8,"y":0.085},{"k":"p","s":"H4'","g":"gn","p":1,"x":1662.3,"y":0.007},
{"k":"p","s":"H4'","g":"gn","p":2,"x":1632.7,"y":0.006},{"k":"p","s":"H4'","g":"gn","p":2,"x":1638.7,"y":0.077},{"k":"p","s":"H4'","g":"gn","p":2,"x":1641.7,"y":0.184},{"k":"p","s":"H4'","g":"gn","p":2,"x":1644.7,"y":0.344},{"k":"p","s":"H4'","g":"gn","p":2,"x":1647.7,"y":0.5},{"k":"p","s":"H4'","g":"gn","p":2,"x":1650.7,"y":0.567},{"k":"p","s":"H4'","g":"gn","p":2,"x":1653.7,"y":0.5},{"k":"p","s":"H4'","g":"gn","p":2,"x":1656.7,"y":0.344},{"k":"p","s":"H4'","g":"gn","p":2,"x":1659.7,"y":0.184},{"k":"p","s":"H4'","g":"gn","p":2,"x":1662.7,"y":0.077},{"k":"p","s":"H4'","g":"gn","p":2,"x":1668.7,"y":0.006},
{"k":"p","s":"H4'","g":"or","p":1,"x":1644.5,"y":0.004},{"k":"p","s":"H4'","g":"or","p":1,"x":1649.5,"y":0.05},{"k":"p","s":"H4'","g":"or","p":1,"x":1652,"y":0.119},{"k":"p","s":"H4'","g":"or","p":1,"x":1654.5,"y":0.223},{"k":"p","s":"H4'","g":"or","p":1,"x":1657,"y":0.324},{"k":"p","s":"H4'","g":"or","p":1,"x":1659.5,"y":0.367},{"k":"p","s":"H4'","g":"or","p":1,"x":1662,"y":0.324},{"k":"p","s":"H4'","g":"or","p":1,"x":1664.5,"y":0.223},{"k":"p","s":"H4'","g":"or","p":1,"x":1667,"y":0.119},{"k":"p","s":"H4'","g":"or","p":1,"x":1669.5,"y":0.05},{"k":"p","s":"H4'","g":"or","p":1,"x":1674.5,"y":0.004},
{"k":"p","s":"H4'","g":"pu","p":1,"x":1650.1,"y":0.004},{"k":"p","s":"H4'","g":"pu","p":1,"x":1655.6,"y":0.054},{"k":"p","s":"H4'","g":"pu","p":1,"x":1658.35,"y":0.13},{"k":"p","s":"H4'","g":"pu","p":1,"x":1661.1,"y":0.243},{"k":"p","s":"H4'","g":"pu","p":1,"x":1663.85,"y":0.353},{"k":"p","s":"H4'","g":"pu","p":1,"x":1666.6,"y":0.4},{"k":"p","s":"H4'","g":"pu","p":1,"x":1669.35,"y":0.353},{"k":"p","s":"H4'","g":"pu","p":1,"x":1672.1,"y":0.243},{"k":"p","s":"H4'","g":"pu","p":1,"x":1674.85,"y":0.13},{"k":"p","s":"H4'","g":"pu","p":1,"x":1677.6,"y":0.054},{"k":"p","s":"H4'","g":"pu","p":1,"x":1683.1,"y":0.004},
{"k":"p","s":"H4'","g":"pu","p":2,"x":1654.5,"y":0.006},{"k":"p","s":"H4'","g":"pu","p":2,"x":1662.5,"y":0.079},{"k":"p","s":"H4'","g":"pu","p":2,"x":1666.5,"y":0.191},{"k":"p","s":"H4'","g":"pu","p":2,"x":1670.5,"y":0.356},{"k":"p","s":"H4'","g":"pu","p":2,"x":1674.5,"y":0.518},{"k":"p","s":"H4'","g":"pu","p":2,"x":1678.5,"y":0.587},{"k":"p","s":"H4'","g":"pu","p":2,"x":1682.5,"y":0.518},{"k":"p","s":"H4'","g":"pu","p":2,"x":1686.5,"y":0.356},{"k":"p","s":"H4'","g":"pu","p":2,"x":1690.5,"y":0.191},{"k":"p","s":"H4'","g":"pu","p":2,"x":1694.5,"y":0.079},{"k":"p","s":"H4'","g":"pu","p":2,"x":1702.5,"y":0.006},
{"k":"p","s":"H4'","g":"cl","p":1,"x":1682.5,"y":0.002},{"k":"p","s":"H4'","g":"cl","p":1,"x":1688.5,"y":0.025},{"k":"p","s":"H4'","g":"cl","p":1,"x":1691.5,"y":0.059},{"k":"p","s":"H4'","g":"cl","p":1,"x":1694.5,"y":0.111},{"k":"p","s":"H4'","g":"cl","p":1,"x":1697.5,"y":0.161},{"k":"p","s":"H4'","g":"cl","p":1,"x":1700.5,"y":0.183},{"k":"p","s":"H4'","g":"cl","p":1,"x":1703.5,"y":0.161},{"k":"p","s":"H4'","g":"cl","p":1,"x":1706.5,"y":0.111},{"k":"p","s":"H4'","g":"cl","p":1,"x":1709.5,"y":0.059},{"k":"p","s":"H4'","g":"cl","p":1,"x":1712.5,"y":0.025},{"k":"p","s":"H4'","g":"cl","p":1,"x":1718.5,"y":0.002},

{"k":"h","s":"H1","x":1726.1,"y":0.943,"t":"H1"},{"k":"h","s":"H2","x":1724.5,"y":0.947,"t":"H2"},{"k":"h","s":"H4","x":1726.1,"y":0.784,"t":"H4"},{"k":"h","s":"H4'","x":1723.7,"y":0.777,"t":"H4'"},
{"k":"l","s":"H1","x":1706.8,"y":0.366,"t":"B"},{"k":"l","s":"H1","x":1697.3,"y":0.51,"t":"T"},{"k":"l","s":"H1","x":1684.9,"y":0.72,"t":"T"},{"k":"l","s":"H1","x":1672.2,"y":0.993,"t":"T"},{"k":"l","s":"H1","x":1663.1,"y":1.16,"t":"A"},{"k":"l","s":"H1","x":1654.7,"y":1.326,"t":"R"},{"k":"l","s":"H1","x":1645.5,"y":1.443,"t":"R"},{"k":"l","s":"H1","x":1634.9,"y":1.533,"t":"B"},{"k":"l","s":"H1","x":1624.5,"y":1.46,"t":"B"},{"k":"l","s":"H1","x":1617.1,"y":1.276,"t":"B"},{"k":"l","s":"H1","x":1605.5,"y":0.793,"t":"SC"},
{"k":"a","s":"H1","x":1747.9,"y":1.377,"t":"a"},
{"k":"y","s":"H2","x":1742.4,"y":0.067,"t":"Absorbance (a.u.)"}
],
"B":[
{"sr":"cyan","i":0,"v":34.45},{"sr":"cyan","i":1,"v":32.6},{"sr":"cyan","i":2,"v":33.41},{"sr":"cyan","i":3,"v":32.1},{"sr":"cyan","i":4,"v":34.82},{"sr":"cyan","i":5,"v":33.72},
{"sr":"purple","i":0,"v":24.54},{"sr":"purple","i":1,"v":25.59},{"sr":"purple","i":2,"v":25.09},{"sr":"purple","i":3,"v":25.83},{"sr":"purple","i":4,"v":25.09},{"sr":"purple","i":5,"v":23.14},
{"sr":"green","i":0,"v":23.14},{"sr":"green","i":1,"v":27.29},{"sr":"green","i":2,"v":23.5},{"sr":"green","i":3,"v":24.54},{"sr":"green","i":4,"v":22.87},{"sr":"green","i":5,"v":25.37},
{"sr":"black","i":0,"v":10.18},{"sr":"black","i":1,"v":8.11},{"sr":"black","i":2,"v":10.52},{"sr":"black","i":3,"v":9.63},{"sr":"black","i":4,"v":10.22},{"sr":"black","i":5,"v":12.41},
{"sr":"orange","i":0,"v":7.79},{"sr":"orange","i":1,"v":6.39},{"sr":"orange","i":2,"v":7.42},{"sr":"orange","i":3,"v":7.94},{"sr":"orange","i":4,"v":7.05},{"sr":"orange","i":5,"v":5.4}
],
"K":[
{"i":-0.674,"i2":-0.394,"v":12.75,"v2":13.19},{"i":-0.674,"i2":-0.394,"v":12.97,"v2":13.41},{"i":5.336,"i2":5.616,"v":12.75,"v2":13.19},{"i":5.336,"i2":5.616,"v":12.97,"v2":13.41}
],
"L":[{"i":-1.5,"v":35.3,"t":"b"}]
},
"hconcat":[
{
"data":{"name":"A"},
"facet":{"row":{"field":"s","type":"nominal","header":null}},
"spacing":4.5,
"bounds":"flush",
"spec":{
"width":295,"height":150,
"encoding":{
"x":{"field":"x","type":"quantitative","scale":{"domain":[1585,1725.5],"reverse":true,"nice":false,"zero":false},
"axis":{"values":[1590,1600,1610,1620,1630,1640,1650,1660,1670,1680,1690,1700,1710,1720],"format":"d","labelExpr":"datum.value % 20 === 0 ? datum.label : ''","tickSize":{"condition":{"test":"datum.value % 20 === 0","value":6},"value":3},"labelFontSize":14,"labelPadding":4,"labelOverlap":false,"labelFlush":false,"title":"Wavenumber (cm⁻¹)","titleFontSize":16,"titlePadding":10}},
"y":{"field":"y","type":"quantitative","stack":null,"scale":{"domain":[0,1.5],"nice":false,"zero":false},"axis":null}
},
"layer":[
{"transform":[{"filter":"datum.k=='p' && datum.g=='gr'"}],"mark":{"type":"area","interpolate":"monotone","clip":true,"opacity":1,"fillOpacity":1,"stroke":"#263036","strokeWidth":0.9,"fill":{"gradient":"linear","x1":0,"y1":0,"x2":0,"y2":1,"stops":[{"offset":0,"color":"#5f6767"},{"offset":1,"color":"#dfe3e3"}]}},"encoding":{"detail":{"field":"p","type":"nominal"}}},
{"transform":[{"filter":"datum.k=='p' && datum.g=='cr'"}],"mark":{"type":"area","interpolate":"monotone","clip":true,"opacity":1,"fillOpacity":1,"stroke":"#263036","strokeWidth":0.9,"fill":{"gradient":"linear","x1":0,"y1":0,"x2":0,"y2":1,"stops":[{"offset":0,"color":"#70e6d1"},{"offset":1,"color":"#c6f6ee"}]}},"encoding":{"detail":{"field":"p","type":"nominal"}}},
{"transform":[{"filter":"datum.k=='p' && datum.g=='gn'"}],"mark":{"type":"area","interpolate":"monotone","clip":true,"opacity":1,"fillOpacity":1,"stroke":"#263036","strokeWidth":0.9,"fill":{"gradient":"linear","x1":0,"y1":0,"x2":0,"y2":1,"stops":[{"offset":0,"color":"#62dc22"},{"offset":1,"color":"#b8f296"}]}},"encoding":{"detail":{"field":"p","type":"nominal"}}},
{"transform":[{"filter":"datum.k=='p' && datum.g=='or'"}],"mark":{"type":"area","interpolate":"monotone","clip":true,"opacity":1,"fillOpacity":1,"stroke":"#263036","strokeWidth":0.9,"fill":{"gradient":"linear","x1":0,"y1":0,"x2":0,"y2":1,"stops":[{"offset":0,"color":"#eea060"},{"offset":1,"color":"#f6cfa8"}]}},"encoding":{"detail":{"field":"p","type":"nominal"}}},
{"transform":[{"filter":"datum.k=='p' && datum.g=='pu'"}],"mark":{"type":"area","interpolate":"monotone","clip":true,"opacity":1,"fillOpacity":1,"stroke":"#263036","strokeWidth":0.9,"fill":{"gradient":"linear","x1":0,"y1":0,"x2":0,"y2":1,"stops":[{"offset":0,"color":"#8a62ee"},{"offset":1,"color":"#a98cf3"}]}},"encoding":{"detail":{"field":"p","type":"nominal"}}},
{"transform":[{"filter":"datum.k=='p' && datum.g=='cl'"}],"mark":{"type":"area","interpolate":"monotone","clip":true,"opacity":1,"fillOpacity":1,"stroke":"#263036","strokeWidth":0.9,"fill":{"gradient":"linear","x1":0,"y1":0,"x2":0,"y2":1,"stops":[{"offset":0,"color":"#70e6d1"},{"offset":1,"color":"#c6f6ee"}]}},"encoding":{"detail":{"field":"p","type":"nominal"}}},
{"transform":[{"filter":"datum.k=='e'"}],"mark":{"type":"circle","size":52,"fill":"#ffffff","stroke":"#000000","strokeWidth":1,"opacity":1}},
{"transform":[{"filter":"datum.k=='e'"}],"mark":{"type":"line","color":"#e3161d","strokeWidth":2.4,"interpolate":"monotone"}},
{"transform":[{"filter":"datum.k=='l'"}],"mark":{"type":"text","fontSize":13,"align":"center","baseline":"middle","fill":"#000000"},"encoding":{"text":{"field":"t","type":"nominal"}}},
{"transform":[{"filter":"datum.k=='h'"}],"mark":{"type":"text","fontSize":16,"align":"left","baseline":"middle","fill":"#000000"},"encoding":{"text":{"field":"t","type":"nominal"}}},
{"transform":[{"filter":"datum.k=='a'"}],"mark":{"type":"text","fontSize":26,"fontWeight":"bold","align":"left","baseline":"alphabetic","fill":"#000000"},"encoding":{"text":{"field":"t","type":"nominal"}}},
{"transform":[{"filter":"datum.k=='y'"}],"mark":{"type":"text","fontSize":15,"angle":270,"align":"center","baseline":"middle","fill":"#000000"},"encoding":{"text":{"field":"t","type":"nominal"}}}
]
}
},
{
"vconcat":[
{"width":321.6,"height":268.3,"data":{"values":[{"t":""}]},"mark":{"type":"text"},"encoding":{"text":{"field":"t","type":"nominal"}}},
{
"width":321.6,"height":179,
"data":{"name":"B"},
"transform":[{"filter":"datum.sr=='cyan' || datum.sr=='purple' || datum.sr=='green'"}],
"encoding":{
"x":{"field":"i","type":"quantitative","scale":{"domain":[-0.53,5.48],"nice":false,"zero":false},"axis":{"orient":"top","labels":false,"ticks":false,"domain":true,"title":null}},
"y":{"field":"v","type":"quantitative","scale":{"domain":[21.1,37.5],"nice":false,"zero":false},"axis":{"values":[22.5,25,27.5,30,32.5,35,37.5],"labelExpr":"datum.value % 5 === 0 ? datum.label : ''","tickSize":{"condition":{"test":"datum.value % 5 === 0","value":6},"value":3.5},"labelFontSize":14,"labelPadding":2,"labelOverlap":false,"title":null}}
},
"layer":[
{"mark":{"type":"line","strokeDash":[7,5],"strokeWidth":2},"encoding":{"color":{"field":"sr","type":"nominal","scale":{"domain":["cyan","purple","green","black","orange"],"range":["#88e8d8","#6a50e6","#72dc34","#1a1a1a","#f27a2c"]},"legend":null}}},
{"transform":[{"filter":"datum.sr=='cyan'"}],"mark":{"type":"circle","size":115,"opacity":1,"fill":{"gradient":"radial","x1":0.35,"y1":0.3,"r1":0,"x2":0.5,"y2":0.5,"r2":0.5,"stops":[{"offset":0,"color":"#ffffff"},{"offset":0.3,"color":"#a6f4e6"},{"offset":0.85,"color":"#6adcc8"},{"offset":1,"color":"#58c8b4"}]}}},
{"transform":[{"filter":"datum.sr=='purple'"}],"mark":{"type":"circle","size":115,"opacity":1,"fill":{"gradient":"radial","x1":0.35,"y1":0.3,"r1":0,"x2":0.5,"y2":0.5,"r2":0.5,"stops":[{"offset":0,"color":"#ffffff"},{"offset":0.3,"color":"#7c62f4"},{"offset":0.85,"color":"#4a2ee0"},{"offset":1,"color":"#3a20c0"}]}}},
{"transform":[{"filter":"datum.sr=='green'"}],"mark":{"type":"circle","size":115,"opacity":1,"fill":{"gradient":"radial","x1":0.35,"y1":0.3,"r1":0,"x2":0.5,"y2":0.5,"r2":0.5,"stops":[{"offset":0,"color":"#ffffff"},{"offset":0.3,"color":"#9af060"},{"offset":0.85,"color":"#66d820"},{"offset":1,"color":"#4cb810"}]}}},
{"data":{"values":[{}]},"mark":{"type":"rule","color":"#000","strokeWidth":1},"encoding":{"x":{"datum":5.48},"y":{"datum":21.1},"y2":{"datum":37.5}}},
{"data":{"name":"L"},"mark":{"type":"text","fontSize":25,"fontWeight":"bold","align":"left","baseline":"alphabetic","fill":"#000000"},"encoding":{"text":{"field":"t","type":"nominal"}}}
]
},
{
"width":321.6,"height":178,
"data":{"name":"B"},
"transform":[{"filter":"datum.sr=='black' || datum.sr=='orange'"}],
"encoding":{
"x":{"field":"i","type":"quantitative","scale":{"domain":[-0.53,5.48],"nice":false,"zero":false},"axis":{"values":[0,1,2,3,4,5],"labelExpr":"['H1','H2','H3',\"H3'\",'H4',\"H4'\"][datum.value]","tickSize":6,"labelFontSize":14,"labelPadding":1,"labelFlush":false,"title":null}},
"y":{"field":"v","type":"quantitative","scale":{"domain":[5,12.86],"nice":false,"zero":false},"axis":{"values":[5,7.5,10,12.5],"labelExpr":"datum.value % 5 === 0 ? datum.label : ''","tickSize":{"condition":{"test":"datum.value % 5 === 0","value":6},"value":3.5},"labelFontSize":14,"labelPadding":2,"labelOverlap":false,"title":"Integral area fraction (%)","titleFontSize":16,"titleX":-42.7,"titleY":-5,"titleAlign":"center","titleBaseline":"middle","titleAngle":270}}
},
"layer":[
{"mark":{"type":"line","strokeDash":[7,5],"strokeWidth":2},"encoding":{"color":{"field":"sr","type":"nominal","scale":{"domain":["cyan","purple","green","black","orange"],"range":["#88e8d8","#6a50e6","#72dc34","#1a1a1a","#f27a2c"]},"legend":null}}},
{"transform":[{"filter":"datum.sr=='black'"}],"mark":{"type":"circle","size":115,"opacity":1,"fill":{"gradient":"radial","x1":0.35,"y1":0.3,"r1":0,"x2":0.5,"y2":0.5,"r2":0.5,"stops":[{"offset":0,"color":"#c8c8c8"},{"offset":0.3,"color":"#404040"},{"offset":0.85,"color":"#0a0a0a"},{"offset":1,"color":"#000000"}]}}},
{"transform":[{"filter":"datum.sr=='orange'"}],"mark":{"type":"circle","size":115,"opacity":1,"fill":{"gradient":"radial","x1":0.35,"y1":0.3,"r1":0,"x2":0.5,"y2":0.5,"r2":0.5,"stops":[{"offset":0,"color":"#ffffff"},{"offset":0.3,"color":"#f8a060"},{"offset":0.85,"color":"#f07020"},{"offset":1,"color":"#d85a10"}]}}},
{"data":{"values":[{}]},"mark":{"type":"rule","color":"#000","strokeWidth":1},"encoding":{"x":{"datum":5.48},"y":{"datum":5},"y2":{"datum":12.86}}},
{"data":{"name":"K"},"mark":{"type":"rule","color":"#000","strokeWidth":1.2},"encoding":{"x2":{"field":"i2"},"y2":{"field":"v2"}}}
]
}
],
"spacing":10,
"bounds":"flush"
}
],
"spacing":393.7,
"bounds":"flush"
}
